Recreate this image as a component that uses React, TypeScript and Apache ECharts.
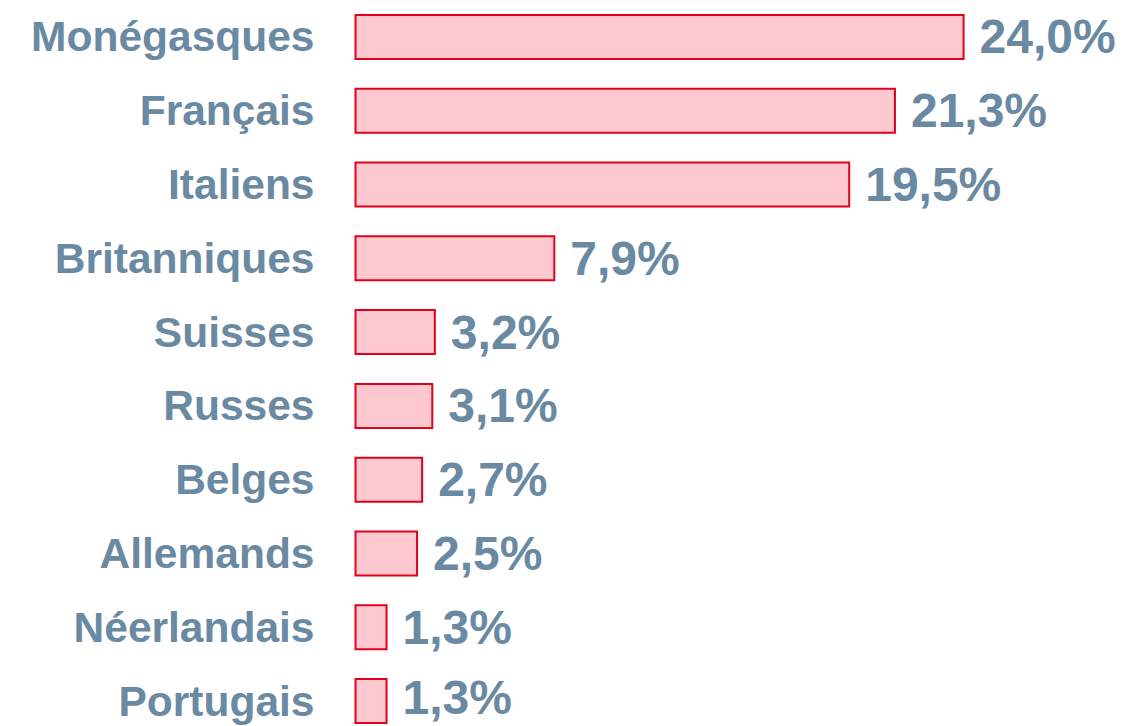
import React, { useEffect, useRef } from "react";
import * as echarts from "echarts";

const categories = [
  "Monégasques",
  "Français",
  "Italiens",
  "Britanniques",
  "Suisses",
  "Russes",
  "Belges",
  "Allemands",
  "Néerlandais",
  "Portugais",
];
const values = [24.0, 21.3, 19.5, 7.9, 3.2, 3.1, 2.7, 2.5, 1.3, 1.3];

const TEXT = "#6a89a2";
const FONT = "'Liberation Sans', Arial, Helvetica, sans-serif";

export default function App() {
  const ref = useRef<HTMLDivElement>(null);
  useEffect(() => {
    if (!ref.current) return;
    const chart = echarts.init(ref.current, undefined, { renderer: "svg" });
    const lastIndex = values.length - 1;
    chart.setOption({
      animation: false,
      backgroundColor: "#ffffff",
      grid: { left: 354.5, top: 0, width: 762.6, height: 738 },
      xAxis: {
        type: "value",
        min: 0,
        max: 30,
        show: false,
      },
      yAxis: {
        type: "category",
        data: categories,
        inverse: true,
        axisLine: { show: false },
        axisTick: { show: false },
        splitLine: { show: false },
        axisLabel: {
          margin: 40,
          fontSize: 42.5,
          lineHeight: 40,
          fontWeight: "bold",
          color: TEXT,
          fontFamily: FONT,
        },
      },
      series: [
        {
          type: "bar",
          data: values.map((v, i) =>
            i === lastIndex ? { value: v, label: { offset: [0, -4] } } : v
          ),
          barWidth: 46,
          itemStyle: {
            color: "#fdc8cf",
            borderColor: "#e3001b",
            borderWidth: 2,
          },
          label: {
            show: true,
            position: "right",
            distance: 15,
            fontSize: 48,
            lineHeight: 42,
            fontWeight: "bold",
            color: TEXT,
            fontFamily: FONT,
            formatter: (p: any) => p.value.toFixed(1).replace(".", ",") + "%",
          },
        },
      ],
    });
    return () => chart.dispose();
  }, []);
  return (
    <div
      style={{
        position: "absolute",
        left: 0,
        top: 0,
        width: 1127,
        height: 726,
        overflow: "hidden",
        background: "#ffffff",
      }}
    >
      <div ref={ref} style={{ width: 1127, height: 740 }} />
    </div>
  );
}
